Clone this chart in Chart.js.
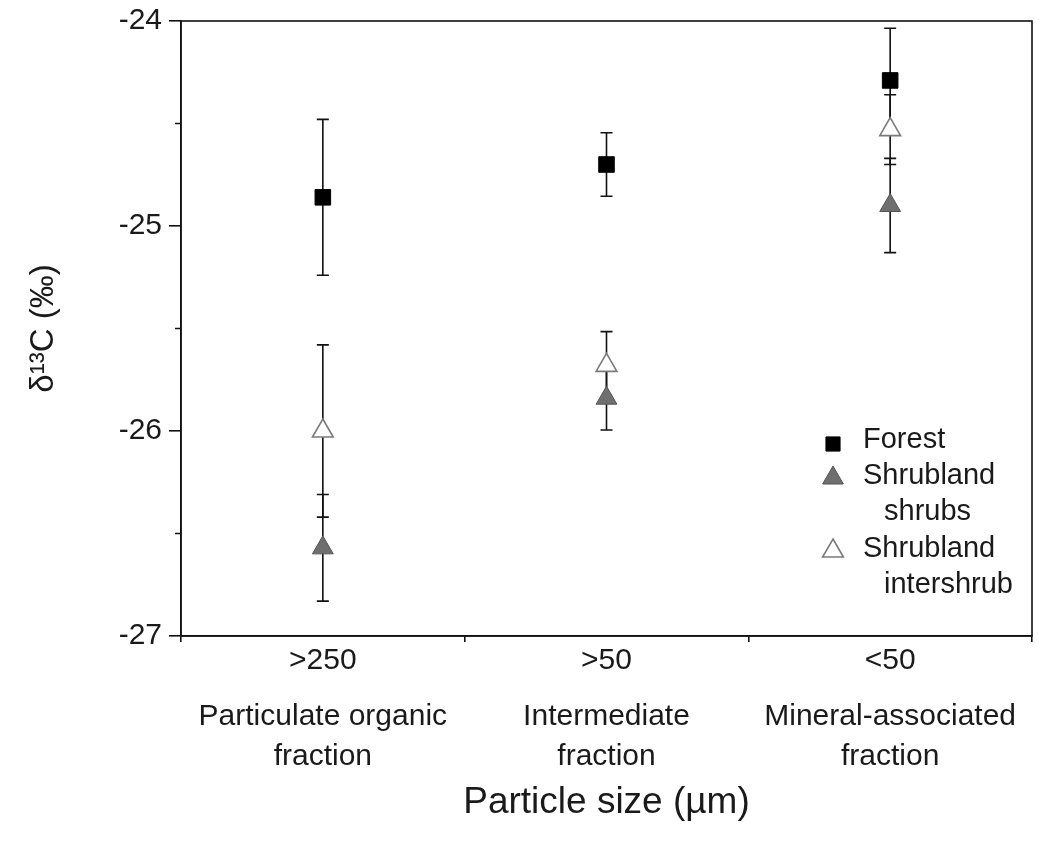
<!DOCTYPE html>
<html>
<head>
<meta charset="utf-8">
<script src="https://cdn.jsdelivr.net/npm/chart.js@4.4.0/dist/chart.umd.min.js"></script>
<style>
  html, body { margin: 0; padding: 0; background: #fff; }
</style>
</head>
<body>
<canvas id="chart" width="1039" height="845"></canvas>
<script>
// particle size classes and their fraction names
const sizeLabels = [">250", ">50", "<50"];
const fractionLabels = [
  ["Particulate organic", "fraction"],
  ["Intermediate", "fraction"],
  ["Mineral-associated", "fraction"]
];

// delta 13C means and error bars (permil)
const forestMean = [-24.86, -24.70, -24.29];
const forestErr = [0.38, 0.155, 0.255];
const shrubsMean = [-26.57, -25.84, -24.90];
const shrubsErr = [0.26, 0.155, 0.23];
const intershrubMean = [-26.00, -25.68, -24.53];
const intershrubErr = [0.42, 0.165, 0.17];

const minorTicks = [-26.5, -25.5, -24.5];
const legendLabels = [["Forest"], ["Shrubland", "shrubs"], ["Shrubland", "intershrub"]];

const FONT = "'Liberation Sans', Arial, sans-serif";
const TEXT = "#1a1a1a";

const errors = [forestErr, shrubsErr, intershrubErr];

// no extra padding from tick labels, the layout padding sets the plot box
function noPad(s) {
  s.paddingTop = 0; s.paddingBottom = 0;
  s.paddingLeft = 0; s.paddingRight = 0;
}

// error bars under the markers
const errorBars = {
  id: "errorBars",
  beforeDatasetsDraw(chart) {
    const ctx = chart.ctx;
    const xs = chart.scales.x, ys = chart.scales.y;
    ctx.save();
    ctx.strokeStyle = "#111";
    ctx.lineWidth = 1.6;
    chart.data.datasets.forEach((ds, d) => {
      ds.data.forEach((v, i) => {
        const x = xs.getPixelForValue(i);
        const top = ys.getPixelForValue(v + errors[d][i]);
        const bot = ys.getPixelForValue(v - errors[d][i]);
        ctx.beginPath();
        ctx.moveTo(x, top); ctx.lineTo(x, bot);
        ctx.moveTo(x - 6, top); ctx.lineTo(x + 6, top);
        ctx.moveTo(x - 6, bot); ctx.lineTo(x + 6, bot);
        ctx.stroke();
      });
    });
    ctx.restore();
  }
};

// frame, minor ticks, legend
const frame = {
  id: "frame",
  afterDraw(chart) {
    const ctx = chart.ctx;
    const a = chart.chartArea;
    const ys = chart.scales.y;
    ctx.save();
    ctx.strokeStyle = "#111";
    ctx.lineWidth = 1.6;
    ctx.strokeRect(a.left, a.top, a.right - a.left, a.bottom - a.top);
    ctx.beginPath();
    minorTicks.forEach(v => {
      const y = ys.getPixelForValue(v);
      ctx.moveTo(a.left - 6, y); ctx.lineTo(a.left, y);
    });
    ctx.stroke();

    // legend inside plot, lower right
    const lx = a.right - 199, tx = a.right - 169;
    const rows = [419, 455, 528];
    ctx.font = "29px " + FONT;
    ctx.textBaseline = "middle";
    chart.data.datasets.forEach((ds, d) => {
      const y0 = a.top + rows[d];
      ctx.fillStyle = ds.pointBackgroundColor;
      ctx.strokeStyle = ds.pointBorderColor;
      ctx.lineWidth = ds.pointBorderWidth;
      Chart.helpers.drawPoint(ctx, {
        pointStyle: ds.pointStyle,
        radius: d === 0 ? 10 : 12,
        borderWidth: ds.pointBorderWidth
      }, lx, y0 + (d === 0 ? 4 : 2));
      ctx.fillStyle = TEXT;
      legendLabels[d].forEach((t, k) => {
        ctx.fillText(t, tx + (k ? 21 : 0), y0 + k * 36);
      });
    });
    ctx.restore();
  }
};

new Chart(document.getElementById("chart"), {
  type: "line",
  data: {
    labels: sizeLabels,
    datasets: [
      {
        label: "Forest",
        data: forestMean,
        showLine: false,
        pointStyle: "rect",
        pointRadius: 11,
        pointBackgroundColor: "#000",
        pointBorderColor: "#000",
        pointBorderWidth: 1
      },
      {
        label: "Shrubland shrubs",
        data: shrubsMean,
        showLine: false,
        pointStyle: "triangle",
        pointRadius: 12,
        pointBackgroundColor: "#6f6f6f",
        pointBorderColor: "#555",
        pointBorderWidth: 1
      },
      {
        label: "Shrubland intershrub",
        data: intershrubMean,
        showLine: false,
        pointStyle: "triangle",
        pointRadius: 12,
        pointBackgroundColor: "#fff",
        pointBorderColor: "#7a7a7a",
        pointBorderWidth: 1.6
      }
    ]
  },
  options: {
    responsive: false,
    animation: false,
    layout: { autoPadding: false, padding: { left: 0, right: 7, top: 21, bottom: 0 } },
    plugins: {
      legend: { display: false },
      tooltip: { enabled: false }
    },
    scales: {
      x: {
        type: "category",
        position: "bottom",
        offset: true,
        grid: { display: true, drawOnChartArea: false, offset: true, tickLength: 6, color: "#111", lineWidth: 1.6 },
        border: { display: true, color: "#111", width: 1.6 },
        ticks: { padding: 1, color: TEXT, font: { family: FONT, size: 30 }, maxRotation: 0, autoSkip: false },
        afterFit(s) { s.height = 50; noPad(s); }
      },
      x2: {
        type: "category",
        position: "bottom",
        offset: true,
        labels: fractionLabels,
        grid: { display: false },
        border: { display: false },
        ticks: { padding: 2, color: TEXT, font: { family: FONT, size: 30, lineHeight: 1.36 }, maxRotation: 0, autoSkip: false },
        title: {
          display: true,
          text: "Particle size (\u00b5m)",
          color: TEXT,
          font: { family: FONT, size: 37 },
          padding: { top: 0, bottom: 20 }
        },
        afterFit(s) { s.height = 159; noPad(s); }
      },
      y: {
        min: -27,
        max: -24,
        ticks: { stepSize: 1, padding: 7, color: TEXT, font: { family: FONT, size: 30 } },
        grid: { display: true, drawOnChartArea: false, tickLength: 12, color: "#111", lineWidth: 1.6 },
        border: { display: true, color: "#111", width: 1.6 },
        title: {
          display: true,
          text: "\u03b4\u00b9\u00b3C (\u2030)",
          color: TEXT,
          font: { family: FONT, size: 33 },
          padding: { top: 24, bottom: 0 }
        },
        afterFit(s) { s.width = 181; noPad(s); }
      }
    }
  },
  plugins: [errorBars, frame]
});
</script>
</body>
</html>
